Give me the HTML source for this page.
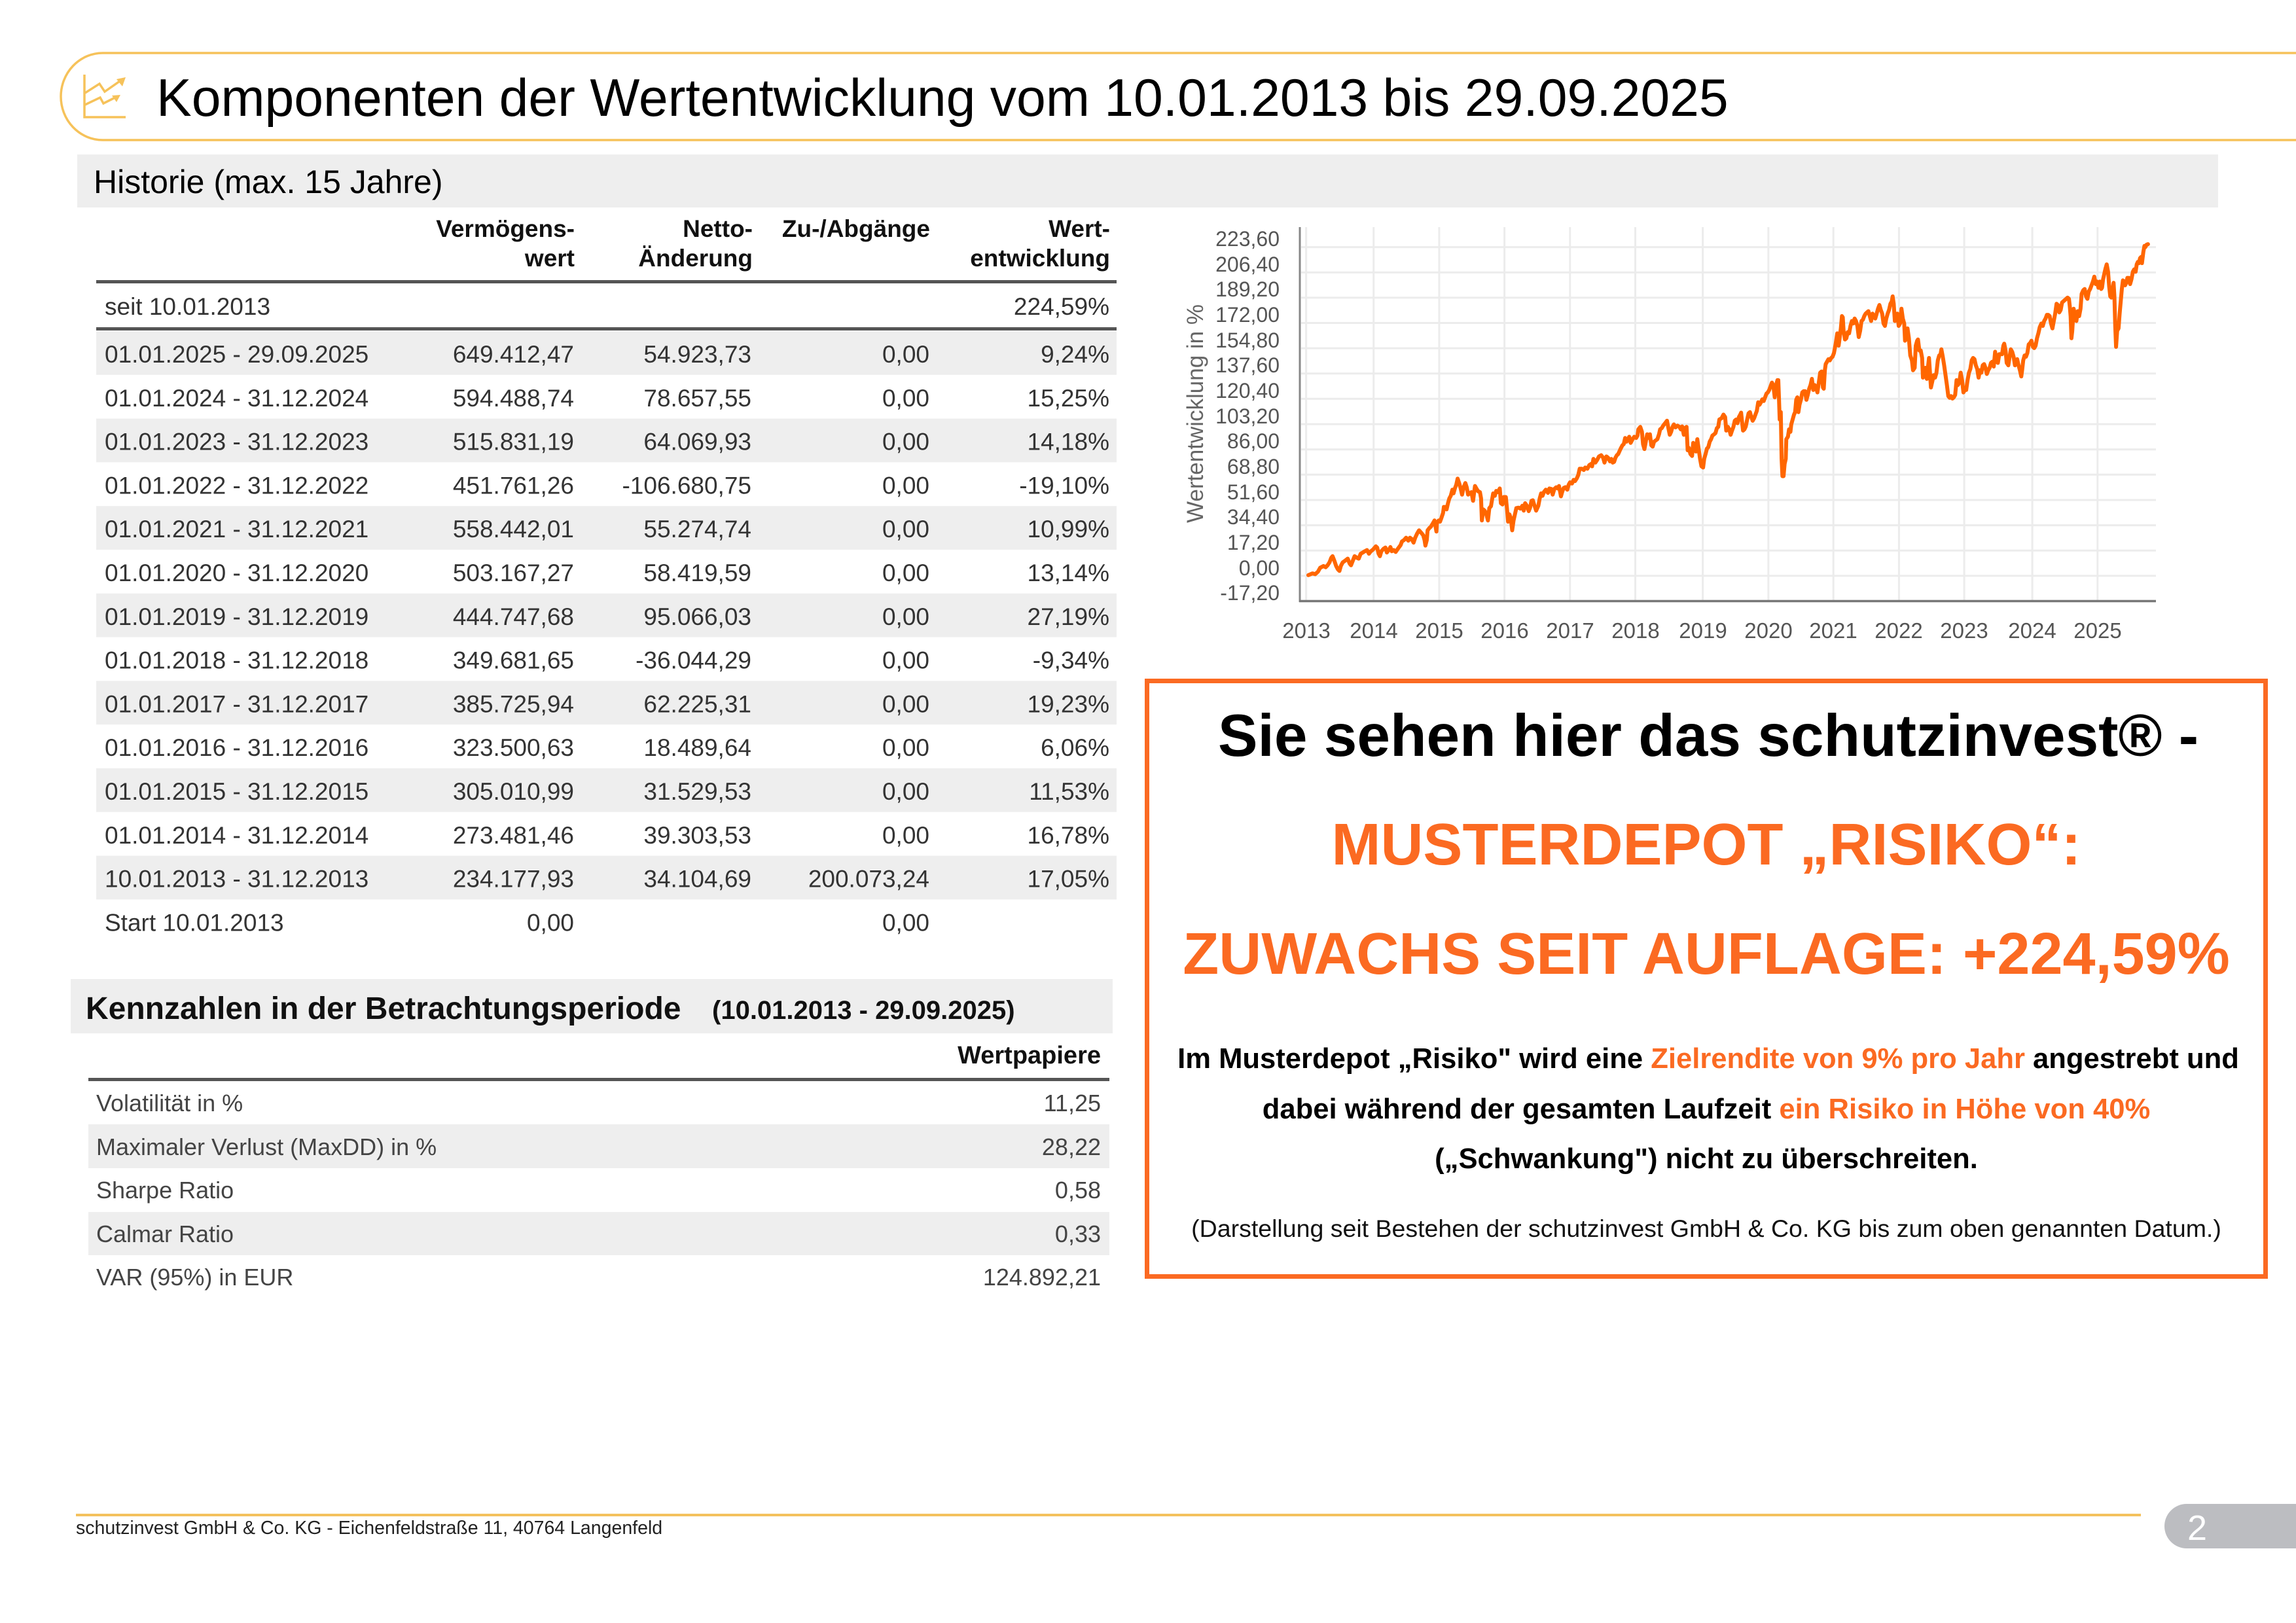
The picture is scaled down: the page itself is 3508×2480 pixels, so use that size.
<!DOCTYPE html>
<html><head><meta charset="utf-8">
<style>
html,body{margin:0;padding:0;background:#fff;}
body{width:3508px;height:2480px;overflow:hidden;}
svg{display:block;}
text{font-family:"Liberation Sans",Arial,sans-serif;}
.b{font-weight:bold;}
.row{font-size:37px;fill:#333;}
.hd{font-size:37px;font-weight:bold;fill:#111;}
.kz{font-size:36px;fill:#444;}
.yl{font-size:32px;fill:#555;}
.xl{font-size:33px;fill:#555;}
</style></head>
<body>
<svg width="3508" height="2480" viewBox="0 0 3508 2480" xmlns="http://www.w3.org/2000/svg">
<rect x="0" y="0" width="3508" height="2480" fill="#fff"/>

<!-- Title frame -->
<path d="M3512,81 H157 A64,66.5 0 0 0 157,214 H3512" fill="none" stroke="#f6c25a" stroke-width="3.5"/>
<!-- icon -->
<g fill="none" stroke="#f6c25a" stroke-width="3.5" stroke-linejoin="miter">
<path d="M129,114 V179 H192"/>
<path d="M130,142 L152,128 L160,140 L183,124"/>
<path d="M130,160 L153,149 L158,158 L176,149"/>
</g>
<polygon points="192,118 178,121 187,132" fill="#f6c25a"/>
<polygon points="184,145 171,146 178,156" fill="#f6c25a"/>
<text x="239" y="177" font-size="80.5" fill="#000">Komponenten der Wertentwicklung vom 10.01.2013 bis 29.09.2025</text>

<!-- Historie bar -->
<rect x="118" y="236" width="3271" height="81" fill="#eeeeee"/>
<text x="143" y="295" font-size="50" fill="#000">Historie (max. 15 Jahre)</text>

<!-- Table header -->
<text class="hd" x="878" y="362" text-anchor="end">Vermögens-</text>
<text class="hd" x="878" y="407" text-anchor="end">wert</text>
<text class="hd" x="1150" y="362" text-anchor="end">Netto-</text>
<text class="hd" x="1150" y="407" text-anchor="end">Änderung</text>
<text class="hd" x="1421" y="362" text-anchor="end">Zu-/Abgänge</text>
<text class="hd" x="1696" y="362" text-anchor="end">Wert-</text>
<text class="hd" x="1696" y="407" text-anchor="end">entwicklung</text>

<rect x="147" y="428" width="1559" height="5" fill="#555"/>
<text class="row" x="160" y="481">seit 10.01.2013</text>
<text class="row" x="1695" y="481" text-anchor="end">224,59%</text>
<rect x="147" y="500" width="1559" height="5" fill="#555"/>

<!-- shaded rows -->
<rect x="147" y="506" width="1559" height="66.8" fill="#eeeeee"/>
<rect x="147" y="639.6" width="1559" height="66.8" fill="#eeeeee"/>
<rect x="147" y="773.2" width="1559" height="66.8" fill="#eeeeee"/>
<rect x="147" y="906.8" width="1559" height="66.8" fill="#eeeeee"/>
<rect x="147" y="1040.4" width="1559" height="66.8" fill="#eeeeee"/>
<rect x="147" y="1174" width="1559" height="66.8" fill="#eeeeee"/>
<rect x="147" y="1307.6" width="1559" height="66.8" fill="#eeeeee"/>

<g class="row">
<text x="160" y="554">01.01.2025 - 29.09.2025</text>
<text x="877" y="554" text-anchor="end">649.412,47</text>
<text x="1148" y="554" text-anchor="end">54.923,73</text>
<text x="1420" y="554" text-anchor="end">0,00</text>
<text x="1695" y="554" text-anchor="end">9,24%</text>

<text x="160" y="620.8">01.01.2024 - 31.12.2024</text>
<text x="877" y="620.8" text-anchor="end">594.488,74</text>
<text x="1148" y="620.8" text-anchor="end">78.657,55</text>
<text x="1420" y="620.8" text-anchor="end">0,00</text>
<text x="1695" y="620.8" text-anchor="end">15,25%</text>

<text x="160" y="687.6">01.01.2023 - 31.12.2023</text>
<text x="877" y="687.6" text-anchor="end">515.831,19</text>
<text x="1148" y="687.6" text-anchor="end">64.069,93</text>
<text x="1420" y="687.6" text-anchor="end">0,00</text>
<text x="1695" y="687.6" text-anchor="end">14,18%</text>

<text x="160" y="754.4">01.01.2022 - 31.12.2022</text>
<text x="877" y="754.4" text-anchor="end">451.761,26</text>
<text x="1148" y="754.4" text-anchor="end">-106.680,75</text>
<text x="1420" y="754.4" text-anchor="end">0,00</text>
<text x="1695" y="754.4" text-anchor="end">-19,10%</text>

<text x="160" y="821.2">01.01.2021 - 31.12.2021</text>
<text x="877" y="821.2" text-anchor="end">558.442,01</text>
<text x="1148" y="821.2" text-anchor="end">55.274,74</text>
<text x="1420" y="821.2" text-anchor="end">0,00</text>
<text x="1695" y="821.2" text-anchor="end">10,99%</text>

<text x="160" y="888">01.01.2020 - 31.12.2020</text>
<text x="877" y="888" text-anchor="end">503.167,27</text>
<text x="1148" y="888" text-anchor="end">58.419,59</text>
<text x="1420" y="888" text-anchor="end">0,00</text>
<text x="1695" y="888" text-anchor="end">13,14%</text>

<text x="160" y="954.8">01.01.2019 - 31.12.2019</text>
<text x="877" y="954.8" text-anchor="end">444.747,68</text>
<text x="1148" y="954.8" text-anchor="end">95.066,03</text>
<text x="1420" y="954.8" text-anchor="end">0,00</text>
<text x="1695" y="954.8" text-anchor="end">27,19%</text>

<text x="160" y="1021.6">01.01.2018 - 31.12.2018</text>
<text x="877" y="1021.6" text-anchor="end">349.681,65</text>
<text x="1148" y="1021.6" text-anchor="end">-36.044,29</text>
<text x="1420" y="1021.6" text-anchor="end">0,00</text>
<text x="1695" y="1021.6" text-anchor="end">-9,34%</text>

<text x="160" y="1088.4">01.01.2017 - 31.12.2017</text>
<text x="877" y="1088.4" text-anchor="end">385.725,94</text>
<text x="1148" y="1088.4" text-anchor="end">62.225,31</text>
<text x="1420" y="1088.4" text-anchor="end">0,00</text>
<text x="1695" y="1088.4" text-anchor="end">19,23%</text>

<text x="160" y="1155.2">01.01.2016 - 31.12.2016</text>
<text x="877" y="1155.2" text-anchor="end">323.500,63</text>
<text x="1148" y="1155.2" text-anchor="end">18.489,64</text>
<text x="1420" y="1155.2" text-anchor="end">0,00</text>
<text x="1695" y="1155.2" text-anchor="end">6,06%</text>

<text x="160" y="1222">01.01.2015 - 31.12.2015</text>
<text x="877" y="1222" text-anchor="end">305.010,99</text>
<text x="1148" y="1222" text-anchor="end">31.529,53</text>
<text x="1420" y="1222" text-anchor="end">0,00</text>
<text x="1695" y="1222" text-anchor="end">11,53%</text>

<text x="160" y="1288.8">01.01.2014 - 31.12.2014</text>
<text x="877" y="1288.8" text-anchor="end">273.481,46</text>
<text x="1148" y="1288.8" text-anchor="end">39.303,53</text>
<text x="1420" y="1288.8" text-anchor="end">0,00</text>
<text x="1695" y="1288.8" text-anchor="end">16,78%</text>

<text x="160" y="1355.6">10.01.2013 - 31.12.2013</text>
<text x="877" y="1355.6" text-anchor="end">234.177,93</text>
<text x="1148" y="1355.6" text-anchor="end">34.104,69</text>
<text x="1420" y="1355.6" text-anchor="end">200.073,24</text>
<text x="1695" y="1355.6" text-anchor="end">17,05%</text>

<text x="160" y="1422.4">Start 10.01.2013</text>
<text x="877" y="1422.4" text-anchor="end">0,00</text>
<text x="1420" y="1422.4" text-anchor="end">0,00</text>
</g>

<!-- Kennzahlen -->
<rect x="108" y="1496" width="1592" height="83" fill="#eeeeee"/>
<text x="131" y="1557" font-size="48" class="b" fill="#111">Kennzahlen in der Betrachtungsperiode</text>
<text x="1088" y="1557" font-size="40" class="b" fill="#111">(10.01.2013 - 29.09.2025)</text>
<text x="1682" y="1625" font-size="38" class="b" fill="#111" text-anchor="end">Wertpapiere</text>
<rect x="135" y="1647" width="1560" height="5" fill="#555"/>
<rect x="135" y="1718" width="1560" height="67" fill="#eeeeee"/>
<rect x="135" y="1852" width="1560" height="66" fill="#eeeeee"/>
<g class="kz">
<text x="147" y="1698">Volatilität in %</text>
<text x="1682" y="1698" text-anchor="end">11,25</text>
<text x="147" y="1765">Maximaler Verlust (MaxDD) in %</text>
<text x="1682" y="1765" text-anchor="end">28,22</text>
<text x="147" y="1831">Sharpe Ratio</text>
<text x="1682" y="1831" text-anchor="end">0,58</text>
<text x="147" y="1898">Calmar Ratio</text>
<text x="1682" y="1898" text-anchor="end">0,33</text>
<text x="147" y="1964">VAR (95%) in EUR</text>
<text x="1682" y="1964" text-anchor="end">124.892,21</text>
</g>

<!-- Chart grid -->
<g stroke="#ececec" stroke-width="3">
<line x1="1988" x2="3294" y1="377.6" y2="377.6"/>
<line x1="1988" x2="3294" y1="416.2" y2="416.2"/>
<line x1="1988" x2="3294" y1="454.9" y2="454.9"/>
<line x1="1988" x2="3294" y1="493.5" y2="493.5"/>
<line x1="1988" x2="3294" y1="532.1" y2="532.1"/>
<line x1="1988" x2="3294" y1="570.8" y2="570.8"/>
<line x1="1988" x2="3294" y1="609.4" y2="609.4"/>
<line x1="1988" x2="3294" y1="648.1" y2="648.1"/>
<line x1="1988" x2="3294" y1="686.7" y2="686.7"/>
<line x1="1988" x2="3294" y1="725.3" y2="725.3"/>
<line x1="1988" x2="3294" y1="764.0" y2="764.0"/>
<line x1="1988" x2="3294" y1="802.6" y2="802.6"/>
<line x1="1988" x2="3294" y1="841.3" y2="841.3"/>
<line x1="1988" x2="3294" y1="879.9" y2="879.9"/>
<line y1="347" y2="917" x1="1995.6" x2="1995.6"/>
<line y1="347" y2="917" x1="2098.7" x2="2098.7"/>
<line y1="347" y2="917" x1="2198.9" x2="2198.9"/>
<line y1="347" y2="917" x1="2298.6" x2="2298.6"/>
<line y1="347" y2="917" x1="2398.8" x2="2398.8"/>
<line y1="347" y2="917" x1="2498.5" x2="2498.5"/>
<line y1="347" y2="917" x1="2601.6" x2="2601.6"/>
<line y1="347" y2="917" x1="2701.9" x2="2701.9"/>
<line y1="347" y2="917" x1="2801.2" x2="2801.2"/>
<line y1="347" y2="917" x1="2901.4" x2="2901.4"/>
<line y1="347" y2="917" x1="3001.1" x2="3001.1"/>
<line y1="347" y2="917" x1="3105.1" x2="3105.1"/>
<line y1="347" y2="917" x1="3204.8" x2="3204.8"/>
</g>
<line x1="1986" x2="1986" y1="347" y2="920" stroke="#888" stroke-width="3"/>
<line x1="1985" x2="3294" y1="918.5" y2="918.5" stroke="#777" stroke-width="3.5"/>

<!-- y labels -->
<g class="yl" text-anchor="end">
<text x="1955" y="376">223,60</text>
<text x="1955" y="415">206,40</text>
<text x="1955" y="453">189,20</text>
<text x="1955" y="492">172,00</text>
<text x="1955" y="531">154,80</text>
<text x="1955" y="569">137,60</text>
<text x="1955" y="608">120,40</text>
<text x="1955" y="647">103,20</text>
<text x="1955" y="685">86,00</text>
<text x="1955" y="724">68,80</text>
<text x="1955" y="763">51,60</text>
<text x="1955" y="801">34,40</text>
<text x="1955" y="840">17,20</text>
<text x="1955" y="879">0,00</text>
<text x="1955" y="917">-17,20</text>
</g>
<g class="xl" text-anchor="middle">
<text x="1996" y="975">2013</text>
<text x="2099" y="975">2014</text>
<text x="2199" y="975">2015</text>
<text x="2299" y="975">2016</text>
<text x="2399" y="975">2017</text>
<text x="2499" y="975">2018</text>
<text x="2602" y="975">2019</text>
<text x="2702" y="975">2020</text>
<text x="2801" y="975">2021</text>
<text x="2901" y="975">2022</text>
<text x="3001" y="975">2023</text>
<text x="3105" y="975">2024</text>
<text x="3205" y="975">2025</text>
</g>
<text transform="translate(1838,632) rotate(-90)" text-anchor="middle" font-size="35" fill="#666">Wertentwicklung in %</text>

<!-- Series -->
<g transform="translate(1980,340) scale(0.42092,0.37628)">
<polyline fill="none" stroke="#ff6600" stroke-width="6" stroke-linejoin="round" stroke-linecap="round" vector-effect="non-scaling-stroke" points="45,1432 60,1425 70,1428 80,1418 88,1402 100,1395 108,1400 115,1392 122,1380 128,1362 133,1355 140,1375 146,1395 152,1408 158,1415 163,1395 170,1380 180,1372 188,1365 195,1385 200,1392 207,1372 213,1355 222,1362 228,1365 235,1345 243,1340 250,1335 258,1330 265,1345 272,1335 280,1328 290,1315 295,1320 300,1345 305,1355 310,1335 318,1325 325,1320 330,1340 337,1330 343,1318 348,1335 355,1330 362,1338 370,1325 380,1310 385,1295 392,1290 400,1280 408,1292 414,1280 420,1285 427,1300 433,1280 440,1263 447,1250 455,1260 462,1270 467,1290 470,1312 475,1290 478,1250 485,1240 490,1235 497,1222 503,1210 510,1255 512,1220 518,1210 523,1215 528,1200 534,1180 537,1155 542,1155 547,1165 552,1140 557,1120 562,1110 568,1085 572,1100 577,1080 582,1065 587,1040 593,1060 598,1080 603,1105 607,1085 610,1072 615,1058 620,1075 625,1105 632,1098 637,1095 643,1130 650,1070 656,1082 662,1092 668,1095 672,1120 675,1210 680,1165 685,1170 690,1180 697,1210 702,1160 708,1152 712,1125 716,1100 722,1110 727,1090 733,1095 740,1080 744,1140 750,1145 755,1115 762,1115 766,1160 770,1215 775,1185 780,1200 785,1250 790,1210 796,1180 800,1160 808,1158 815,1162 822,1150 827,1170 832,1140 838,1150 845,1172 850,1158 855,1130 860,1128 866,1150 872,1170 880,1150 885,1120 890,1100 895,1110 900,1095 907,1085 915,1098 920,1080 927,1082 932,1105 938,1082 945,1075 950,1080 955,1070 962,1112 967,1092 972,1078 978,1075 985,1085 990,1065 995,1055 1002,1060 1008,1045 1013,1050 1020,1038 1025,1025 1030,1000 1038,1000 1045,1005 1050,995 1058,1000 1065,985 1072,980 1075,990 1080,960 1087,975 1093,965 1100,950 1108,945 1115,955 1120,975 1127,950 1133,955 1140,970 1145,960 1150,975 1155,972 1160,955 1165,945 1170,940 1178,920 1185,905 1190,900 1195,875 1200,890 1205,880 1210,870 1215,895 1222,880 1228,870 1235,875 1240,865 1243,840 1250,830 1256,850 1260,900 1265,920 1270,890 1275,860 1280,875 1285,860 1290,905 1295,910 1300,890 1306,885 1312,880 1318,860 1322,840 1328,835 1333,825 1340,815 1347,805 1352,835 1357,862 1362,850 1367,830 1372,820 1378,832 1385,825 1392,830 1397,840 1402,828 1408,862 1412,835 1418,830 1422,925 1426,915 1432,940 1438,948 1442,895 1447,915 1452,930 1457,880 1462,920 1467,960 1472,990 1478,995 1482,960 1487,940 1492,918 1497,912 1502,890 1507,880 1512,865 1518,860 1523,855 1528,835 1533,830 1537,800 1545,795 1552,780 1558,790 1562,845 1568,840"/>
</g>
<g transform="translate(2640,340) scale(0.42092,0.37628)">
<polyline fill="none" stroke="#ff6600" stroke-width="6" stroke-linejoin="round" stroke-linecap="round" vector-effect="non-scaling-stroke" points="0,830 5,840 10,862 15,845 20,830 25,805 30,800 35,815 40,790 45,780 48,772 52,815 55,845 60,840 65,828 70,800 75,775 80,770 85,790 90,805 95,795 100,780 105,765 110,730 115,740 120,730 125,718 130,725 135,710 140,695 145,690 150,680 155,665 160,650 165,662 170,710 175,660 180,640 183,640 185,700 188,800 192,770 195,960 198,1030 202,1030 206,980 210,960 212,880 218,870 222,840 227,850 230,820 235,800 240,780 244,770 248,720 252,710 256,770 260,740 265,720 270,690 275,685 280,685 285,720 290,700 295,675 300,660 305,635 310,680 315,660 320,670 325,690 330,650 335,610 340,605 345,670 348,675 352,600 355,575 360,565 365,555 370,560 375,550 380,545 385,530 390,500 393,480 397,450 402,500 405,475 410,430 414,380 417,385 420,440 425,475 430,470 435,445 440,450 445,420 450,400 455,410 460,390 465,400 470,420 475,465 480,440 485,400 490,395 495,380 500,370 505,365 510,360 515,380 520,400 525,370 530,380 535,390 540,370 545,350 550,335 555,355 560,370 565,410 570,420 575,390 580,370 585,355 590,330 595,320 598,300 602,330 606,400 610,385 615,370 620,420 625,410 630,350 635,390 640,410 643,480 648,470 652,430 657,470 662,540 668,560 672,600 678,590 682,500 687,480 690,475 695,520 700,520 705,550 708,630 712,620 717,590 722,635 727,580 730,550 733,600 737,670 742,645 747,620 752,630 757,610 762,560 767,540 772,535 775,515 780,545 785,580 790,620 795,660 800,705 805,712 810,705 815,715 820,710 825,700 830,640 835,660 840,650 845,610 850,640 855,690 860,680 865,680 870,640 875,610 880,595 885,560 890,550 895,555 900,580 905,595 910,630 915,600 920,610 925,580 930,575 935,590 940,615 945,600 950,590 955,570 960,565 965,585 970,525 975,560 980,570 985,535 990,535 995,535 1000,500 1003,492 1008,520 1012,570 1018,580 1022,550 1027,515 1032,525 1037,545 1042,580 1047,570 1050,555 1055,580 1060,600 1065,625 1068,600 1072,560 1077,540 1082,545 1087,530 1092,495 1097,490 1102,480 1107,505 1112,510 1117,500 1122,470 1127,450 1132,425 1138,410 1143,420 1148,400 1153,390 1158,375 1163,375 1168,380 1173,410 1178,430 1183,400 1188,370 1193,330 1198,335 1203,365 1208,355 1213,325 1218,320 1223,315 1228,310 1233,305 1238,310 1241,340 1244,380 1247,470 1250,440 1255,350 1260,375 1265,400 1270,360 1275,380 1280,350 1284,290 1290,275 1295,270 1300,300 1305,310 1310,280 1315,270 1320,255 1325,240 1330,220 1335,250 1340,240 1345,265 1350,240 1355,270 1358,265 1362,230 1366,210 1370,190 1375,170 1380,200 1384,260 1388,300 1392,305 1396,275 1400,245 1403,300 1406,420 1409,505 1413,440 1418,430 1422,370 1426,320 1430,270 1434,235 1438,240 1442,255 1446,245 1450,225 1455,225 1460,250 1465,230 1470,200 1475,190 1480,200 1484,170 1488,160 1492,165 1496,145 1500,140 1503,165 1508,120 1512,95 1515,100 1520,90 1525,88"/>
</g>

<!-- Orange box -->
<rect x="1752.5" y="1040.5" width="1709" height="910" fill="none" stroke="#fb6a22" stroke-width="7"/>
<text x="2610" y="1155" font-size="91" class="b" fill="#000" text-anchor="middle">Sie sehen hier das schutzinvest® -</text>
<text x="2607" y="1321" font-size="90" class="b" fill="#fb6a22" text-anchor="middle">MUSTERDEPOT „RISIKO“:</text>
<text x="2607" y="1488" font-size="90" class="b" fill="#fb6a22" text-anchor="middle">ZUWACHS SEIT AUFLAGE: +224,59%</text>
<text x="2610" y="1632" font-size="43.6" class="b" fill="#000" text-anchor="middle" xml:space="preserve"><tspan>Im Musterdepot „Risiko" wird eine </tspan><tspan fill="#fb6a22">Zielrendite von 9% pro Jahr</tspan><tspan> angestrebt und</tspan></text>
<text x="2607" y="1709" font-size="43.6" class="b" fill="#000" text-anchor="middle" xml:space="preserve"><tspan>dabei während der gesamten Laufzeit </tspan><tspan fill="#fb6a22">ein Risiko in Höhe von 40%</tspan></text>
<text x="2607" y="1785" font-size="43.6" class="b" fill="#000" text-anchor="middle">(„Schwankung") nicht zu überschreiten.</text>
<text x="2607" y="1890" font-size="37.5" fill="#111" text-anchor="middle">(Darstellung seit Bestehen der schutzinvest GmbH &amp; Co. KG bis zum oben genannten Datum.)</text>

<!-- Footer -->
<rect x="116" y="2313" width="3155" height="4" fill="#f4c15d"/>
<text x="116" y="2344" font-size="28.5" fill="#222">schutzinvest GmbH &amp; Co. KG - Eichenfeldstraße 11, 40764 Langenfeld</text>
<path d="M3341,2298 H3510 V2366 H3341 A34,34 0 0 1 3341,2298 Z" fill="#bcbdc1"/>
<text x="3357" y="2353" font-size="54" fill="#fff" text-anchor="middle">2</text>
</svg>
</body></html>
